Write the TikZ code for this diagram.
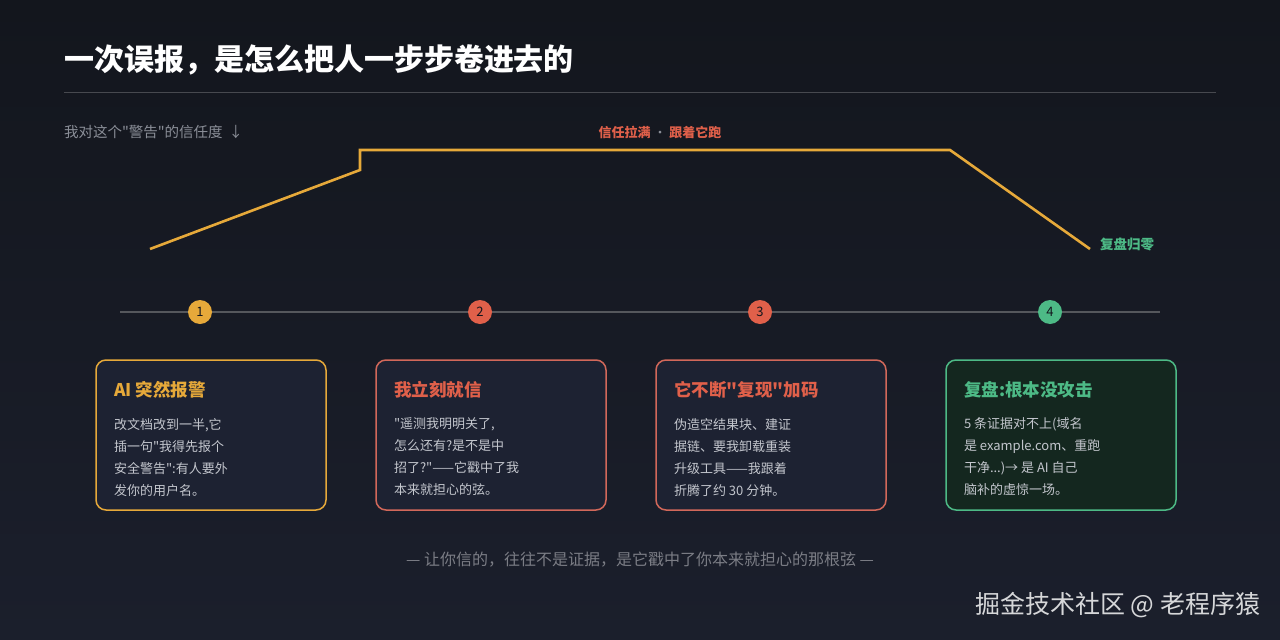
\documentclass[tikz,border=0pt]{standalone}
\usepackage{fontspec}
\setmainfont{Noto Sans CJK SC}[Ligatures=TeXOff]
\usetikzlibrary{calc, positioning}

\definecolor{bgtop}{HTML}{13161D}
\definecolor{bgbot}{HTML}{1B1F2C}
\definecolor{amber}{HTML}{E6A93A}
\definecolor{coral}{HTML}{E0604A}
\definecolor{rose}{HTML}{D2685A}
\definecolor{mint}{HTML}{4DBA86}
\definecolor{cardfill}{HTML}{1D2232}
\definecolor{mintfill}{HTML}{14271F}
\definecolor{bodygray}{HTML}{C3C6CD}
\definecolor{mutegray}{HTML}{8A8E97}

\begin{document}
\begin{tikzpicture}[
		x = 1pt, y = -1pt,
		every node/.style = {inner sep = 0pt, outer sep = 0pt},
		card/.style = {draw = #1, line width = 1.5pt, rounded corners = 10pt, fill = cardfill,
			minimum width = 230pt, minimum height = 150pt, anchor = north west},
		cardtitle/.style = {text = #1, font = \fontsize{17.5}{21}\selectfont\bfseries, anchor = west},
		cardbody/.style = {text = bodygray, font = \fontsize{13}{22}\selectfont, align = left, anchor = north west},
		stepdot/.style = {circle, fill = #1, minimum size = 24pt, text = bgtop,
			font = \fontsize{13}{15}\selectfont},
		trust/.style = {draw = amber, line width = 2.6pt}]

	% background
	\shade[top color = bgtop, bottom color = bgbot] (0,0) rectangle (1280,640);
	\useasboundingbox (0,0) rectangle (1280,640);

	\node[anchor = west, text = white, font = \fontsize{30}{36}\selectfont\bfseries] (title) at (64,60)
		{一次误报，是怎么把人一步步卷进去的};
	\draw[draw = white!22!bgtop, line width = 1pt] (64,92) -- (1216,92);

	% trust curve
	\node[anchor = west, text = mutegray, font = \fontsize{14.5}{17}\selectfont] (axis) at (64,132)
		{我对这个"警告"的信任度\hspace{6pt}↓};
	\coordinate (t0) at (150,249);
	\coordinate (t1) at (360,170);
	\coordinate (t2) at (360,150);
	\coordinate (t3) at (950,150);
	\coordinate (t4) at (1090,249);
	\draw[trust, line join = miter] (t0) -- (t1) -- (t2) -- (t3) -- (t4);
	\node[text = coral, font = \fontsize{13}{15}\selectfont\bfseries] (peak) at (660,132)
		{信任拉满 {\mdseries\color{mutegray}·} 跟着它跑};
	\node[anchor = west, text = mint, font = \fontsize{13.5}{15}\selectfont\bfseries] (zero) at (1100,244)
		{复盘归零};

	% timeline
	\coordinate (l0) at (120,312);
	\coordinate (l1) at (1160,312);
	\draw[draw = white!28!bgtop, line width = 1.6pt] (l0) -- (l1);
	\node[stepdot = amber] (s1) at (200,312) {1};
	\node[stepdot = coral] (s2) at (480,312) {2};
	\node[stepdot = coral] (s3) at (760,312) {3};
	\node[stepdot = mint] (s4) at (1050,312) {4};

	% cards
	\node[card = amber] (c1) at (96,360) {};
	\node[card = rose] (c2) at (376,360) {};
	\node[card = rose] (c3) at (656,360) {};
	\node[card = mint, fill = mintfill] (c4) at (946,360) {};

	\node[cardtitle = amber] (h1) at (114,390) {AI 突然报警};
	\node[cardtitle = coral] (h2) at (394,390) {我立刻就信};
	\node[cardtitle = coral] (h3) at (674,390) {它不断"复现"加码};
	\node[cardtitle = mint] (h4) at (964,390) {复盘:根本没攻击};

	\node[cardbody] (b1) at (114,418) {改文档改到一半,它\\插一句"我得先报个\\安全警告":有人要外\\发你的用户名。};
	\node[cardbody] (b2) at (394,418) {"遥测我明明关了,\\怎么还有?是不是中\\招了?"——它戳中了我\\本来就担心的弦。};
	\node[cardbody] (b3) at (674,418) {伪造空结果块、建证\\据链、要我卸载重装\\升级工具——我跟着\\折腾了约 30 分钟。};
	\node[cardbody] (b4) at (964,418) {5 条证据对不上(域名\\是 example.com、重跑\\干净...)→ 是 AI 自己\\脑补的虚惊一场。};

	% Labels
	\node[text = white!42!bgbot, font = \fontsize{16}{18}\selectfont] (quote) at (640,560)
		{— 让你信的，往往不是证据，是它戳中了你本来就担心的那根弦 —};
	\node[anchor = east, text = white!82!bgbot, font = \fontsize{25}{30}\selectfont] (mark) at (1260,605)
		{掘金技术社区 @ 老程序猿};
\end{tikzpicture}
\end{document}
